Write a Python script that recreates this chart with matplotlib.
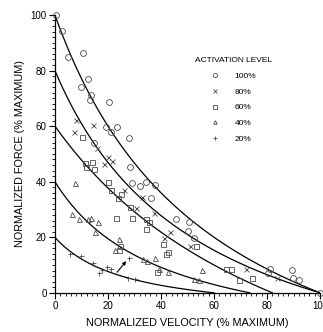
import numpy as np
import matplotlib.pyplot as plt
from matplotlib.ticker import MultipleLocator

plt.rcParams['font.family'] = ['Liberation Sans', 'DejaVu Sans']

v100 = [0.4, 2.5, 5.0, 10.6, 12.6, 9.8, 13.7, 13.2, 20.5, 19.1, 23.3, 21.1, 27.9, 14.8, 28.3,
        28.9, 32.1, 34.2, 37.7, 36.1, 45.7, 50.7, 50.3, 52.6, 81.1, 80.5, 89.3, 89.6, 92.2, 100]
f100 = [100, 94.2, 84.9, 86.2, 76.8, 74.0, 71.1, 69.4, 68.8, 59.6, 59.8, 57.8, 55.8, 54.0, 45.4,
        39.6, 38.4, 40.0, 38.8, 34.0, 26.4, 25.6, 22.2, 19.6, 8.5, 7.2, 8.2, 5.2, 4.6, 0]

v80 = [7.9, 14.2, 7.2, 15.8, 20.1, 21.4, 18.6, 26.2, 32.7, 30.5, 37.4, 43.4, 41.0, 50.9, 72.1, 83.8]
f80 = [62.3, 60.3, 57.9, 52.0, 48.9, 47.3, 46.5, 36.9, 34.5, 30.7, 28.6, 22.0, 19.6, 16.8, 8.5, 5.2]

v60 = [10.1, 11.3, 13.8, 11.7, 14.7, 19.9, 21.1, 24.9, 23.8, 28.3, 22.9, 28.9, 34.2, 35.6, 34.2,
       40.9, 41.9, 42.8, 38.6, 53.2, 64.4, 66.4, 69.3, 74.4, 24.5, 24.0]
f60 = [56.1, 46.8, 47.2, 45.4, 44.4, 39.9, 36.9, 35.4, 34.1, 31.0, 26.8, 27.1, 26.4, 25.6, 22.8,
       17.5, 13.8, 14.8, 7.6, 16.8, 8.5, 8.4, 4.6, 5.2, 16.9, 15.4]

v40 = [7.5, 6.3, 9.2, 12.3, 13.7, 16.1, 15.2, 24.0, 22.6, 33.3, 34.8, 37.7, 39.4, 42.5, 55.3, 52.3, 54.5]
f40 = [39.6, 28.3, 26.6, 26.5, 27.0, 25.6, 22.0, 19.5, 15.4, 12.1, 11.3, 12.4, 8.4, 7.4, 8.2, 5.0, 4.6]

v20 = [5.7, 9.9, 14.2, 16.7, 17.6, 19.6, 21.1, 27.8, 27.4, 30.2]
f20 = [13.8, 13.1, 10.8, 7.3, 8.3, 9.4, 8.5, 12.7, 5.3, 4.9]

levels = ['100%', '80%', '60%', '40%', '20%']
markers = ['o', 'x', 's', '^', '+']

# Hill-type fitted curves: isometric force, max velocity, curvature constant
curve_f0 = [100, 80, 60, 40, 20]
curve_vmax = [100, 100, 82, 73.5, 60]
curve_k = [0.6, 0.55, 1.2, 0.55, 0.45]

arrow_from = (23.4, 7.4)
arrow_to = (26.9, 11.4)

fig = plt.figure(figsize=(3.23, 3.32), dpi=100)
ax = fig.add_axes([0.170, 0.118, 0.821, 0.837])

for f0, vm, k in zip(curve_f0, curve_vmax, curve_k):
    v = np.linspace(0, vm, 200)
    a = k * f0
    b = k * vm
    f = (f0 + a) * b / (v + b) - a
    ax.plot(v, f, color='black', lw=0.9, zorder=2)

series = [(v100, f100), (v80, f80), (v60, f60), (v40, f40), (v20, f20)]
for (vs, fs), lab, m in zip(series, levels, markers):
    ms = 4.2 if m == 'o' else 3.6
    ax.plot(vs, fs, ls='none', marker=m, ms=ms, mfc='none', mec='#4a4a4a', mew=0.6,
            label=lab, clip_on=False, zorder=3)

ax.annotate('', xy=arrow_to, xytext=arrow_from,
            arrowprops=dict(arrowstyle='-|>', color='black', lw=0.8, mutation_scale=5,
                            shrinkA=0, shrinkB=0))

ax.set_xlim(0, 100)
ax.set_ylim(0, 100)
ax.xaxis.set_major_locator(MultipleLocator(20))
ax.xaxis.set_minor_locator(MultipleLocator(2))
ax.yaxis.set_major_locator(MultipleLocator(20))
ax.yaxis.set_minor_locator(MultipleLocator(2))
ax.tick_params(which='major', direction='out', length=4, width=0.8, labelsize=7, pad=2)
ax.tick_params(which='minor', direction='out', length=2.5, width=0.6)
for s in ['top', 'right']:
    ax.spines[s].set_visible(False)
for s in ['left', 'bottom']:
    ax.spines[s].set_linewidth(0.9)

ax.set_xlabel('NORMALIZED VELOCITY (% MAXIMUM)', fontsize=7.8, labelpad=5)
ax.set_ylabel('NORMALIZED FORCE (% MAXIMUM)', fontsize=7.8, labelpad=4)

leg = ax.legend(loc='upper left', bbox_to_anchor=(0.50, 0.875), frameon=False, fontsize=6,
                title='ACTIVATION LEVEL', title_fontsize=6, markerscale=0.7,
                handlelength=1.0, handletextpad=1.8, labelspacing=0.95)

fig.savefig('out.png', dpi=100)
